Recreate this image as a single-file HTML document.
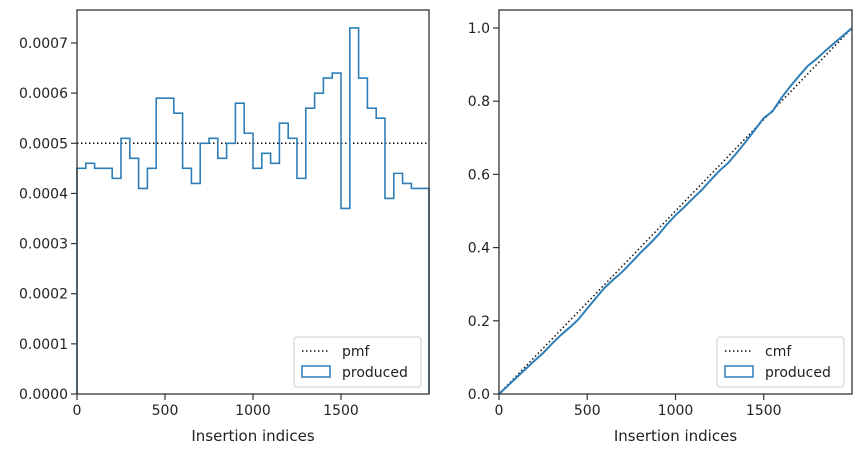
<!DOCTYPE html>
<html><head><meta charset="utf-8"><style>
body{margin:0;background:#fff;font-family:"Liberation Sans","DejaVu Sans",sans-serif}
svg text{font-family:"DejaVu Sans","Liberation Sans",sans-serif;fill:#222}
</style></head><body>
<svg id="c" width="861" height="453" xmlns="http://www.w3.org/2000/svg"></svg>
<script>
const binEdgesStart = 0;
const binWidth = 50;
const pmfValues = [4.5,4.6,4.5,4.5,4.3,5.1,4.7,4.1,4.5,5.9,5.9,5.6,4.5,4.2,5.0,5.1,4.7,5.0,5.8,5.2,4.5,4.8,4.6,5.4,5.1,4.3,5.7,6.0,6.3,6.4,3.7,7.3,6.3,5.7,5.5,3.9,4.4,4.2,4.1,4.1].map(v=>v*1e-4);
const pmfRef = 0.0005;
const leftYTicks = [0,0.0001,0.0002,0.0003,0.0004,0.0005,0.0006,0.0007];
const rightYTicks = [0,0.2,0.4,0.6,0.8,1.0];
const xTicks = [0,500,1000,1500];
const NS="http://www.w3.org/2000/svg";
const svg=document.getElementById('c');
function mk(t,a,p){const e=document.createElementNS(NS,t);for(const k in a)e.setAttribute(k,a[k]);(p||svg).appendChild(e);return e;}
function panel(L,R,T,B,yMax,yTicks,fmt,name){
  const g=mk('g',{});
  
  
  const x=v=>L+(v-0)/2000*(R-L);
  const y=v=>B-v/yMax*(B-T);
  xTicks.forEach(t=>{mk('line',{x1:x(t),x2:x(t),y1:B,y2:B+6,stroke:'#333','stroke-width':1.2},g);
    const tx=mk('text',{x:x(t),y:B+21,'text-anchor':'middle','font-size':14},g);tx.textContent=t;
    });
  yTicks.forEach(t=>{mk('line',{x1:L-6,x2:L,y1:y(t),y2:y(t),stroke:'#333','stroke-width':1.2},g);
    const tx=mk('text',{x:L-9,y:y(t)+5,'text-anchor':'end','font-size':14},g);tx.textContent=fmt(t);
    });
  const xl=mk('text',{x:(L+R)/2,y:441,'text-anchor':'middle','font-size':15},g);xl.textContent='Insertion indices';
  
  return {g,x,y};
}
function frame(g,L,R,T,B){const r=mk('rect',{x:L,y:T,width:R-L,height:B-T,fill:'none',stroke:'#333','stroke-width':1.3},g);
  }
function legend(g,x0,y0,lab){
  const r=mk('rect',{x:x0,y:y0,width:127,height:50,rx:3,fill:'#fff',stroke:'#ccc','fill-opacity':0.85},g);
  
  mk('line',{x1:x0+8,x2:x0+36,y1:y0+14,y2:y0+14,stroke:'#111','stroke-width':1.5,'stroke-dasharray':'1.5,2.5'},g);
  const t1=mk('text',{x:x0+48,y:y0+19,'font-size':14},g);t1.textContent=lab;
  
  mk('rect',{x:x0+8,y:y0+29,width:28,height:11,fill:'none',stroke:'#2e7fb8','stroke-width':1.5},g);
  const t2=mk('text',{x:x0+48,y:y0+40,'font-size':14},g);t2.textContent='produced';
  
}
// left
let P=panel(77,429,10,394,0.0007/ (351/384),leftYTicks,t=>t.toFixed(4),'pmf-panel');
{const {g,x,y}=P;
 mk('line',{x1:77,x2:429,y1:y(pmfRef),y2:y(pmfRef),stroke:'#111','stroke-width':1.5,'stroke-dasharray':'1.5,2.5'},g);
 let d=`M${x(0)},${y(0)}`;
 pmfValues.forEach((v,i)=>{const a=binEdgesStart+i*binWidth;d+=` L${x(a)},${y(v)} L${x(a+binWidth)},${y(v)}`;});
 d+=` L${x(binEdgesStart+pmfValues.length*binWidth)},${y(0)}`;
 const p=mk('path',{d,fill:'none',stroke:'#2e7fb8','stroke-width':1.6},g);
 
 frame(g,77,429,10,394);legend(g,294,337,'pmf');}
// right
P=panel(499,852,10,394,1/(366/384),rightYTicks,t=>t.toFixed(1),'cmf-panel');
{const {g,x,y}=P;
 const cl=mk('line',{x1:x(0),x2:x(2000),y1:y(0),y2:y(1),stroke:'#111','stroke-width':1.5,'stroke-dasharray':'1.5,2.5'},g);
 
 let c=0,d=`M${x(0)},${y(0)}`;
 pmfValues.forEach((v,i)=>{c+=v*binWidth;d+=` L${x(binEdgesStart+(i+1)*binWidth)},${y(c)}`;});
 const p=mk('path',{d,fill:'none',stroke:'#2e7fb8','stroke-width':2},g);
 
 frame(g,499,852,10,394);legend(g,717,337,'cmf');}
</script>
</body></html>
